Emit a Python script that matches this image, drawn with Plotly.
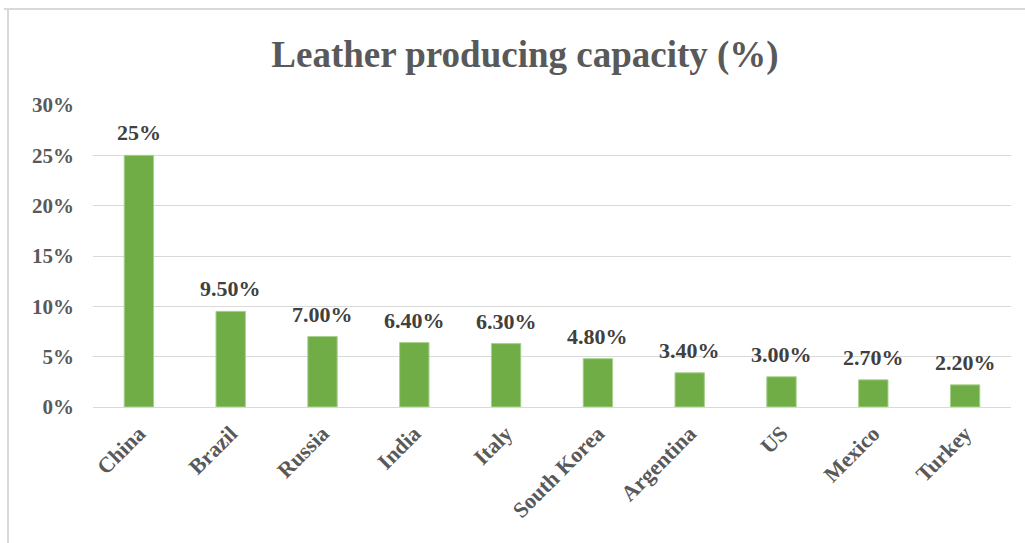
import plotly.graph_objects as go

countries = ["China", "Brazil", "Russia", "India", "Italy", "South Korea",
             "Argentina", "US", "Mexico", "Turkey"]
capacity = [0.25, 0.095, 0.07, 0.064, 0.063, 0.048, 0.034, 0.03, 0.027, 0.022]
labels = ["25%", "9.50%", "7.00%", "6.40%", "6.30%", "4.80%", "3.40%", "3.00%", "2.70%", "2.20%"]
y_ticks = [0, 0.05, 0.10, 0.15, 0.20, 0.25, 0.30]
y_tick_text = ["0%", "5%", "10%", "15%", "20%", "25%", "30%"]

W, H = 1025, 543
ML, MR, MT, MB = 93, 14, 105, 136
pw, ph = W - ML - MR, H - MT - MB

def px_x(x):
    return (x - ML) / pw

def px_y(y):
    return (H - MB - y) / ph

fig = go.Figure(go.Bar(
    x=countries, y=capacity,
    marker=dict(color="#70AD47", line=dict(color="#a9d18e", width=1)),
    hoverinfo="skip",
))

for c, v, t in zip(countries, capacity, labels):
    fig.add_annotation(x=c, y=v, text="<b>%s</b>" % t, showarrow=False,
                       xanchor="center", yanchor="bottom", yshift=8,
                       font=dict(family="Liberation Serif", size=22, color="#404040"))

fig.update_layout(
    width=W, height=H,
    margin=dict(l=ML, r=MR, t=MT, b=MB),
    paper_bgcolor="white", plot_bgcolor="white",
    bargap=0.68,
    showlegend=False,
    title=dict(text="<b>Leather producing capacity (%)</b>", x=525 / W, xanchor="center",
               y=1 - 54 / H, yanchor="middle",
               font=dict(family="Liberation Serif", size=37, color="#595959")),
    font=dict(family="Liberation Serif", color="#595959"),
    xaxis=dict(tickangle=-45, tickfont=dict(family="Liberation Serif", size=22, color="#595959"),
               showgrid=False, showline=True, linecolor="#d9d9d9", linewidth=1,
               ticks="", ticklabelstandoff=4,
               tickvals=countries, ticktext=["<b>%s</b>" % c for c in countries]),
    yaxis=dict(range=[0, 0.30], tickvals=y_ticks, ticktext=["<b>%s</b>" % t for t in y_tick_text],
               tickfont=dict(family="Liberation Serif", size=21, color="#595959"),
               showgrid=True, gridcolor="#d9d9d9", gridwidth=1, zeroline=False,
               showline=False, ticks="", ticklabelstandoff=18),
)

fig.add_shape(type="line", xref="paper", yref="paper",
              x0=px_x(4), x1=px_x(1025), y0=px_y(9), y1=px_y(9),
              line=dict(color="#d9d9d9", width=2))
fig.add_shape(type="line", xref="paper", yref="paper",
              x0=px_x(8), x1=px_x(8), y0=px_y(9), y1=px_y(543),
              line=dict(color="#d9d9d9", width=2))

fig.write_html("out.html")
